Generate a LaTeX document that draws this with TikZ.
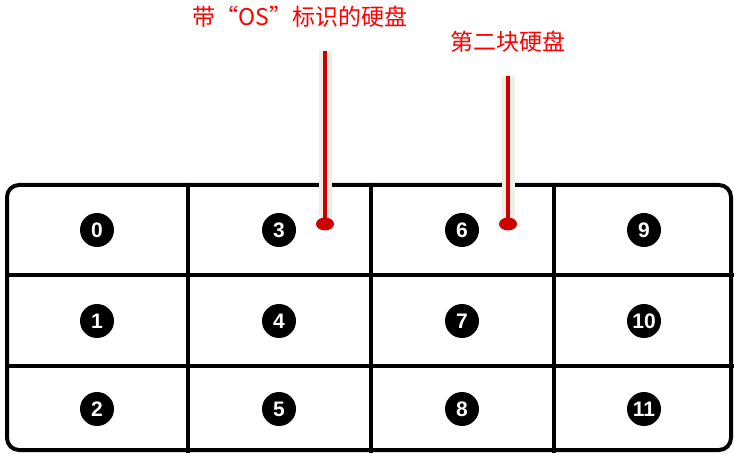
\documentclass[tikz,border=0pt]{standalone}
\usepackage{fontspec}
\setmainfont{Liberation Sans}
\newfontfamily\cjk{Noto Sans CJK SC}
\usetikzlibrary{shapes.geometric}
\definecolor{markred}{HTML}{CC0000}
\definecolor{stickbg}{HTML}{EEEEE6}
\tikzset{
  num/.style={circle,fill=black,text=white,inner sep=0pt,minimum size=34pt,
    font=\bfseries\fontsize{21}{21}\selectfont},
  grid/.style={line width=4pt},
  cut/.style={grid,preaction={draw,white,line width=10pt}},
  tag/.style={text=red,font=\cjk\fontsize{23}{23}\selectfont},
  pin/.style={ellipse,fill=markred,minimum width=18pt,minimum height=13pt,inner sep=0pt},
  stick/.style={stickbg,line width=13pt,preaction={},postaction={draw,markred,line width=4.5pt}},
}
\begin{document}
\begin{tikzpicture}[x=1pt,y=-1pt]
      \useasboundingbox (0,0) rectangle (734,454);
      % frame and grid
      \draw[grid,rounded corners=12pt] (7,185) rectangle (731,450);
      \begin{scope}[cut]
        \draw (9,275) -- (734,275);
        \draw (9,366) -- (734,366);
        \draw (188,183) -- (188,453);
        \draw (371,183) -- (371,453);
        \draw (554,183) -- (554,453);
      \end{scope}
      % disk numbers
      \draw
        (97,230) node[num] (n0){0}
        (97,321) node[num] (n1){1}
        (97,409) node[num] (n2){2}
        (279,230) node[num] (n3){3}
        (279,321) node[num] (n4){4}
        (279,409) node[num] (n5){5}
        (462,230) node[num] (n6){6}
        (462,321) node[num] (n7){7}
        (462,409) node[num] (n8){8}
        (644,230) node[num] (n9){9}
        (644,321) node[num] (n10){10}
        (644,409) node[num] (n11){11};
      % markers
      \coordinate (osTop) at (325,51);
      \coordinate (osEnd) at (325,224);
      \coordinate (twoTop) at (508,76);
      \coordinate (twoEnd) at (508,224);
      \draw[stick] (osTop) -- (osEnd);
      \draw[stick] (twoTop) -- (twoEnd);
      \node[pin] (osPin) at (osEnd) {};
      \node[pin] (twoPin) at (twoEnd) {};
      \node[tag] (osLabel) at (300,17) {带“OS”标识的硬盘};
      \node[tag] (twoLabel) at (508,42) {第二块硬盘};
    \end{tikzpicture}
\end{document}
